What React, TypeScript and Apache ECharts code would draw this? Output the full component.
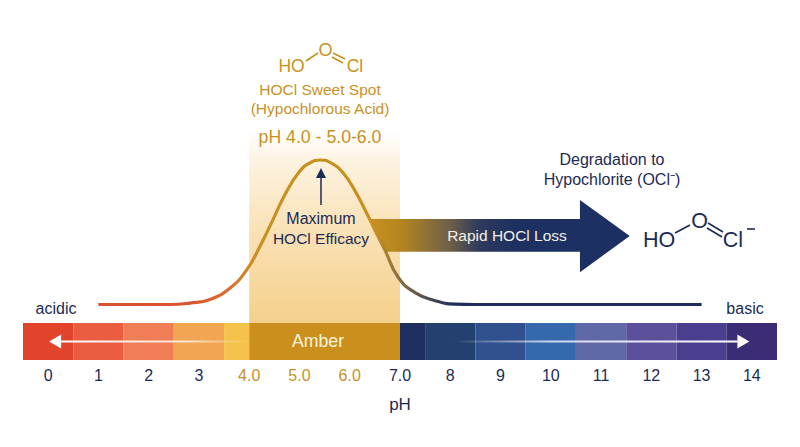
import React, { useEffect, useRef } from "react";
import * as echarts from "echarts";

const curvePH = [1, 1.83, 2.42, 2.82, 3.22, 3.62, 3.95, 4.21, 4.45, 4.71, 5, 5.21, 5.41, 5.65, 5.87, 6.1, 6.34, 6.5, 6.7, 6.96, 7.3, 7.7, 8.09, 8.49, 13];
const curveEfficacy = [0, 0, 0, 1, 3.5, 11.4, 24, 40, 57, 76, 92, 98, 100, 97.5, 91, 79, 63, 51.6, 37.7, 19, 8.2, 2.6, 0.3, 0, 0];
const stripEdges = [-0.5, 0.5, 1.5, 2.5, 3.5, 4, 7, 7.5, 8.5, 9.5, 10.5, 11.5, 12.5, 13.5, 14.5];
const stripColors = ["#e2432b", "#ea5d40", "#ef7d55", "#f2a653", "#f5c24b", "#cb8f1d", "#1f2f5f", "#24406f", "#31508e", "#3669ac", "#6068a8", "#5c509c", "#493f8e", "#3b2c75"];
const tickValues = [0, 1, 2, 3, 4, 5, 6, 7, 8, 9, 10, 11, 12, 13, 14];
const tickLabels = ["0", "1", "2", "3", "4.0", "5.0", "6.0", "7.0", "8", "9", "10", "11", "12", "13", "14"];
const sweetSpotRange = [4, 7];
const lossArrow = { fromTop: 6.4, fromBottom: 6.72, headStart: 10.58, tip: 11.57, mid: 47.4, bodyTop: 11.8, bodyBottom: 10.9, headHalf: 25 };
const stripArrows = [[3.98, 0.02], [8.05, 13.95]];

const NAVY = "#1c2b55";
const AMBER = "#c8911f";
const FONT = "'Liberation Sans', Arial, sans-serif";

const txt = (text: string, x: number, y: number, size: number, fill: string) => ({
  type: "text", z: 100, x, y,
  style: { text, fontSize: size, fontFamily: FONT, fill, align: "center", verticalAlign: "middle" },
});
const bond = (x1: number, y1: number, x2: number, y2: number, stroke: string, w = 1.6) => ({
  type: "line", z: 100, shape: { x1, y1, x2, y2 }, style: { stroke, lineWidth: w },
});

export default function App() {
  const ref = useRef<HTMLDivElement>(null);
  useEffect(() => {
    document.body.style.margin = "0";
    const chart = echarts.init(ref.current!, undefined, { renderer: "svg" });
    const stripData = stripColors.map((_, i) => [stripEdges[i], stripEdges[i + 1], i]);
    chart.setOption({
      animation: false,
      backgroundColor: "#ffffff",
      grid: [
        { left: 23, right: 23, top: 131, height: 192 },
        { left: 23, right: 23, top: 323, height: 37 },
      ],
      xAxis: [
        { gridIndex: 0, type: "value", min: -0.5, max: 14.5, show: false },
        {
          gridIndex: 1, type: "value", min: -0.5, max: 14.5,
          name: "pH", nameLocation: "middle", nameGap: 36,
          nameTextStyle: { color: NAVY, fontSize: 17, fontFamily: FONT },
          axisLine: { show: false }, axisTick: { show: false }, splitLine: { show: false },
          axisLabel: {
            customValues: tickValues, margin: 7, fontSize: 16, fontFamily: FONT,
            formatter: (v: number) => tickLabels[tickValues.indexOf(v)],
            color: (v: any) => (Number(v) >= 4 && Number(v) <= 6 ? AMBER : NAVY),
          },
        },
      ],
      yAxis: [
        { gridIndex: 0, type: "value", min: -12.8, max: 120.07, show: false },
        { gridIndex: 1, type: "value", min: 0, max: 1, show: false },
      ],
      series: [
        {
          type: "custom", xAxisIndex: 0, yAxisIndex: 0, z: 1, silent: true,
          encode: { x: [0, 1] },
          data: [[sweetSpotRange[0], sweetSpotRange[1]]],
          renderItem: (_: any, api: any) => {
            const a = api.coord([api.value(0), 120.07]);
            const b = api.coord([api.value(1), -12.8]);
            return {
              type: "rect",
              shape: { x: a[0], y: a[1], width: b[0] - a[0], height: b[1] - a[1] },
              style: {
                fill: new echarts.graphic.LinearGradient(0, 0, 0, 1, [
                  { offset: 0, color: "#ffffff" },
                  { offset: 0.15, color: "#fdf3e2" },
                  { offset: 0.5, color: "#fae2b8" },
                  { offset: 1, color: "#f5d08c" },
                ]),
              },
            };
          },
        },
        {
          type: "custom", xAxisIndex: 0, yAxisIndex: 0, z: 2, silent: true,
          encode: { x: [0, 1] },
          data: [[lossArrow.fromTop, lossArrow.tip]],
          renderItem: (_: any, api: any) => {
            const { fromTop, fromBottom, headStart, tip, mid, bodyTop, bodyBottom, headHalf } = lossArrow;
            const pts = [
              [fromTop, mid + bodyTop], [headStart, mid + bodyTop], [headStart, mid + headHalf],
              [tip, mid], [headStart, mid - headHalf], [headStart, mid - bodyBottom], [fromBottom, mid - bodyBottom],
            ].map((p) => api.coord(p));
            return {
              type: "polygon",
              shape: { points: pts },
              style: {
                fill: new echarts.graphic.LinearGradient(0, 0, 1, 0, [
                  { offset: 0, color: "#c98f22" },
                  { offset: 0.12, color: "#b4861f" },
                  { offset: 0.31, color: "#6d5f48" },
                  { offset: 0.42, color: "#2f3a5c" },
                  { offset: 0.55, color: "#1d3161" },
                  { offset: 1, color: "#1c2f63" },
                ]),
              },
            };
          },
        },
        {
          type: "line", xAxisIndex: 0, yAxisIndex: 0, z: 3, silent: true,
          smooth: 0.5, showSymbol: false,
          data: curvePH.map((x, i) => [x, curveEfficacy[i]]),
          lineStyle: {
            width: 3.2,
            color: new echarts.graphic.LinearGradient(0, 0, 1, 0, [
              { offset: 0, color: "#d9512f" },
              { offset: 0.15, color: "#d9552f" },
              { offset: 0.22, color: "#d9702f" },
              { offset: 0.25, color: "#d08a26" },
              { offset: 0.27, color: "#c8911f" },
              { offset: 0.458, color: "#c8911f" },
              { offset: 0.497, color: "#8a7040" },
              { offset: 0.55, color: "#4a4a55" },
              { offset: 0.59, color: "#1f2d5c" },
              { offset: 1, color: "#1f2d5c" },
            ]),
          },
        },
        {
          type: "custom", xAxisIndex: 1, yAxisIndex: 1, z: 4, silent: true,
          encode: { x: [0, 1] },
          data: stripData,
          renderItem: (_: any, api: any) => {
            const a = api.coord([api.value(0), 1]);
            const b = api.coord([api.value(1), 0]);
            return {
              type: "rect",
              shape: { x: a[0], y: a[1], width: b[0] - a[0], height: b[1] - a[1] },
              style: { fill: stripColors[api.value(2)] },
            };
          },
        },
        {
          type: "custom", xAxisIndex: 1, yAxisIndex: 1, z: 5, silent: true,
          encode: { x: [0, 1] },
          data: stripArrows,
          renderItem: (_: any, api: any) => {
            const a = api.coord([api.value(0), 0.5]);
            const b = api.coord([api.value(1), 0.5]);
            const dir = b[0] > a[0] ? 1 : -1;
            const baseX = b[0] - dir * 12;
            return {
              type: "group",
              children: [
                {
                  type: "rect",
                  shape: { x: Math.min(a[0], baseX), y: a[1] - 1, width: Math.abs(baseX - a[0]), height: 2 },
                  style: {
                    fill: new echarts.graphic.LinearGradient(dir > 0 ? 0 : 1, 0, dir > 0 ? 1 : 0, 0, [
                      { offset: 0, color: "rgba(255,255,255,0)" },
                      { offset: 0.35, color: "rgba(255,255,255,0.75)" },
                      { offset: 1, color: "#ffffff" },
                    ]),
                  },
                },
                {
                  type: "polygon",
                  shape: { points: [[b[0], b[1]], [baseX, b[1] - 7], [baseX, b[1] + 7]] },
                  style: { fill: "#ffffff" },
                },
              ],
            };
          },
        },
      ],
      graphic: [
        txt("HO", 291.5, 66, 17.5, AMBER),
        txt("O", 325.5, 50, 18, AMBER),
        txt("Cl", 355, 66, 17.5, AMBER),
        bond(306, 61, 318, 53, AMBER),
        bond(333, 53, 345, 59, AMBER),
        bond(332, 57, 343, 63, AMBER),
        txt("HOCl Sweet Spot", 320, 89, 15.5, AMBER),
        txt("(Hypochlorous Acid)", 320, 108, 15.5, AMBER),
        txt("pH 4.0 - 5.0-6.0", 320, 137, 17.7, AMBER),
        txt("Maximum", 321, 218, 16, NAVY),
        txt("HOCl Efficacy", 321, 238, 15.5, NAVY),
        bond(321, 176, 321, 205, NAVY, 1.5),
        { type: "polygon", z: 100, shape: { points: [[321, 168], [316, 178], [326, 178]] }, style: { fill: NAVY } },
        txt("Rapid HOCl Loss", 507, 235, 15.5, "#f4efe6"),
        txt("Degradation to", 612, 159, 16, NAVY),
        txt("Hypochlorite (OCl\u207B)", 612, 179, 16, NAVY),
        txt("HO", 659, 240, 21.5, NAVY),
        txt("O", 699.5, 221, 21.5, NAVY),
        txt("Cl", 733, 240, 21.5, NAVY),
        bond(675, 233, 690, 225, NAVY),
        bond(708, 223, 723, 232, NAVY),
        bond(707, 228, 722, 237, NAVY),
        bond(747, 229, 755, 229, NAVY),
        txt("acidic", 56, 308, 16, NAVY),
        txt("basic", 745, 308, 16, NAVY),
        txt("Amber", 318, 341, 17.7, "#fbf3df"),
      ],
    });
    return () => chart.dispose();
  }, []);
  return <div ref={ref} style={{ width: 800, height: 447 }} />;
}
